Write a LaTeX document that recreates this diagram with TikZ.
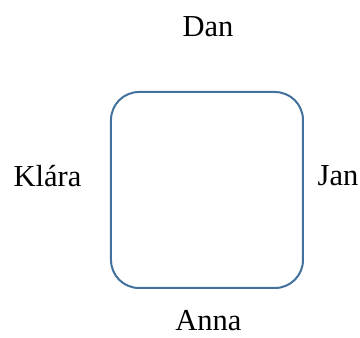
\documentclass[tikz,border=0pt]{standalone}
\usepackage{fontspec}
\setmainfont{Liberation Serif}
\definecolor{boxblue}{HTML}{41719C}
\begin{document}
\begin{tikzpicture}[x=1pt,y=1pt,
  lbl/.style={anchor=base,inner sep=0pt,font=\fontsize{30.5}{36}\selectfont},
  frame/.style={draw=boxblue,line width=2pt,rounded corners=28pt}]
\useasboundingbox (0,0) rectangle (360,338);
\draw[frame] (111,50) rectangle (303,246);
\node[lbl] (dan) at (208,301) {Dan};
\node[lbl] (klara) at (47.5,151) {Klára};
\node[lbl] (jan) at (338,152) {Jan};
\node[lbl] (anna) at (208.5,7) {Anna};
\end{tikzpicture}
\end{document}
